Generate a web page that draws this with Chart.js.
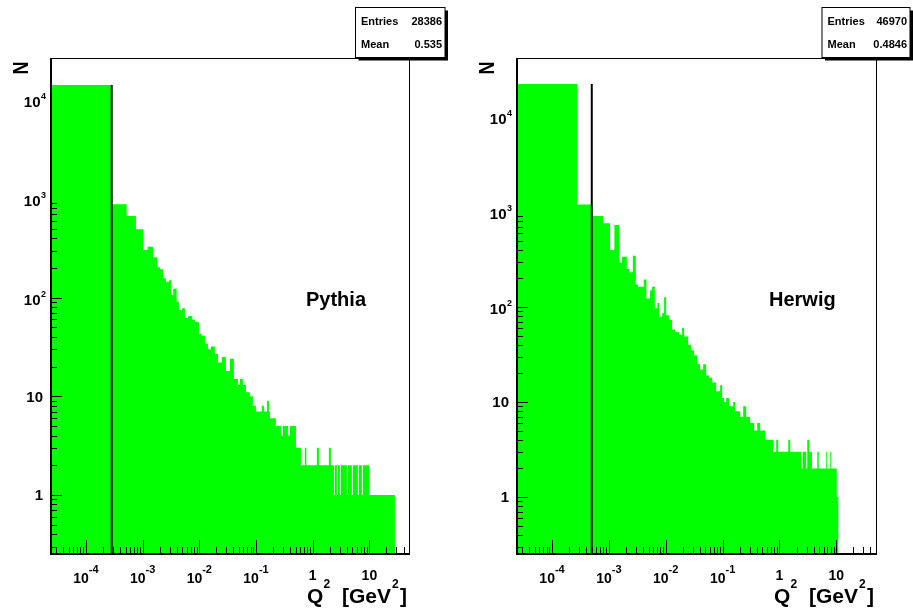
<!DOCTYPE html>
<html>
<head>
<meta charset="utf-8">
<title>Q2 distributions</title>
<script src="https://cdn.jsdelivr.net/npm/chart.js@4.4.0/dist/chart.umd.min.js"></script>
<style>
  body { margin: 0; background: #fff; }
  canvas { position: absolute; top: 0; }
</style>
</head>
<body>
<canvas id="pythiaChart" width="456" height="609" style="left:0"></canvas>
<canvas id="herwigChart" width="457" height="609" style="left:456px"></canvas>
<script>
// Q^2 histograms, bin low edges (GeV^2) and entries per bin
const pythiaEdges = [1e-5, 2.85e-4, 5.22e-4, 7.62e-4, 1.025e-3, 1.225e-3, 1.54e-3, 1.81e-3, 2.02e-3, 2.31e-3,
  2.58e-3, 2.91e-3, 3.19e-3, 3.47e-3, 3.98e-3, 4.37e-3, 4.93e-3, 5.57e-3, 6.37e-3, 7.50e-3,
  8.36e-3, 9.84e-3, 1.10e-2, 1.256e-2, 1.418e-2, 1.60e-2, 1.88e-2, 2.13e-2, 2.50e-2, 2.94e-2,
  3.47e-2, 4.08e-2, 4.80e-2, 5.20e-2, 5.87e-2, 6.64e-2, 7.80e-2, 8.81e-2, 9.95e-2, 0.108,
  0.127, 0.138, 0.156, 0.169, 0.176, 0.224, 0.275, 0.298, 0.366, 0.396,
  0.506, 0.620, 0.727, 0.774, 1.186, 1.286, 1.93, 2.09, 2.37, 2.46,
  2.67, 2.78, 3.02, 3.14, 4.01, 4.18, 4.91, 5.12, 6.27, 6.53,
  7.37, 7.68, 10.0, 28.2];
const pythiaCounts = [14250, 882, 671, 492, 303, 328, 256, 203, 194, 157,
  145, 150, 106, 123, 91, 75, 78, 62, 65, 60,
  57, 43, 41, 34, 30, 32, 27, 22, 25, 18,
  24, 15, 13, 15, 13, 11, 10, 8, 7, 7,
  8, 7, 9, 7, 6, 5, 4, 5, 4, 5,
  3, 2, 3, 2, 3, 2, 3, 2, 1, 2,
  1, 2, 1, 2, 1, 2, 1, 2, 1, 2,
  1, 2, 1];

const herwigEdges = [1e-5, 2.79e-4, 5.0e-4, 8.0e-4, 1.05e-3, 1.25e-3, 1.53e-3, 1.69e-3, 2.07e-3, 2.30e-3,
  2.64e-3, 2.98e-3, 3.27e-3, 4.11e-3, 4.57e-3, 5.31e-3, 5.76e-3, 6.43e-3, 7.14e-3, 7.65e-3,
  8.64e-3, 9.37e-3, 1.016e-2, 1.148e-2, 1.296e-2, 1.464e-2, 1.72e-2, 1.94e-2, 2.11e-2, 2.48e-2,
  2.80e-2, 3.16e-2, 3.57e-2, 4.03e-2, 4.56e-2, 5.14e-2, 5.81e-2, 6.56e-2, 7.72e-2, 9.07e-2,
  9.84e-2, 0.1067, 0.1157, 0.1307, 0.1537, 0.1667, 0.204, 0.2306, 0.260, 0.306,
  0.360, 0.407, 0.459, 0.562, 0.778, 0.879, 0.953, 1.43, 1.55, 2.42,
  2.57, 2.96, 3.09, 3.35, 3.73, 4.63, 4.92, 6.67, 6.94, 7.84,
  8.17, 10.2, 11.0];
const herwigCounts = [22200, 1200, 908, 760, 398, 730, 293, 338, 251, 232,
  347, 173, 163, 195, 123, 150, 163, 97, 110, 79,
  86, 127, 82, 73, 58, 55, 51, 60, 49, 40,
  35, 31, 25, 22, 25, 19, 18, 16, 13, 15,
  11, 10, 11, 9, 10, 8, 7, 9, 7, 6,
  5, 6, 5, 4, 3, 4, 3, 4, 3, 2,
  3, 2, 4, 3, 2, 3, 2, 3, 2, 3,
  2, 1];

// vertical marker lines: [Q2, top]
const pythiaMarker = [2.85e-4, 14250];
const herwigMarker = [5.0e-4, 22200];

const xRange = [2.42e-5, 50];
const pythiaYRange = [0.252, 26800];
const herwigYRange = [0.251, 41800];

const xTickPowers = [-4, -3, -2, -1, 0, 1];
const yTickPowers = [0, 1, 2, 3, 4];

const statLabels = ['Entries', 'Mean'];
const pythiaStats = ['28386', '0.535'];
const herwigStats = ['46970', '0.4846'];

const FONT = '"Liberation Sans", Arial, Helvetica, sans-serif';
const bold = size => 'bold ' + size + 'px ' + FONT;

function histPoints(edges, counts) {
  const pts = counts.map((c, i) => ({ x: edges[i], y: c }));
  pts.push({ x: edges[edges.length - 1], y: 0.1 });
  return pts;
}

// frame, inward ticks, labels, titles and stats box in the ROOT style
function makeFrame(cfg) {
  return {
    id: 'rootFrame',
    afterDraw(chart) {
      const ctx = chart.ctx;
      const a = chart.chartArea;
      const xs = chart.scales.x, ys = chart.scales.y;
      ctx.save();
      ctx.strokeStyle = '#000';
      ctx.fillStyle = '#000';

      ctx.lineWidth = 1;
      ctx.beginPath();
      ctx.moveTo(a.left, a.top + 0.5);
      ctx.lineTo(a.right + 0.5, a.top + 0.5);
      ctx.lineTo(a.right + 0.5, a.bottom);
      ctx.stroke();
      ctx.fillRect(a.left - 1, a.top, 2, a.bottom - a.top + 1);
      ctx.fillRect(a.left - 1, a.bottom - 1, a.right - a.left + 2, 2);

      ctx.beginPath();
      for (let p = -5; p <= 2; p++) {
        for (let k = 1; k <= 9; k++) {
          const v = k * Math.pow(10, p);
          if (v > xs.min && v < xs.max) {
            const px = Math.round(xs.getPixelForValue(v)) + 0.5;
            ctx.moveTo(px, a.bottom);
            ctx.lineTo(px, a.bottom - (k === 1 ? 14 : 7));
          }
          if (v > ys.min && v < ys.max) {
            const py = Math.round(ys.getPixelForValue(v)) + 0.5;
            ctx.moveTo(a.left, py);
            ctx.lineTo(a.left + (k === 1 ? 11 : 6), py);
          }
        }
      }
      ctx.stroke();

      ctx.textBaseline = 'alphabetic';
      xTickPowers.forEach(p => {
        const px = xs.getPixelForValue(Math.pow(10, p));
        if (p >= 0) {
          ctx.font = bold(14);
          ctx.textAlign = 'center';
          ctx.fillText(p === 0 ? '1' : '10', px, a.bottom + 26);
        } else {
          ctx.font = bold(14);
          const wb = ctx.measureText('10').width;
          ctx.font = bold(11);
          const ws = ctx.measureText(String(p)).width;
          const x0 = px - (wb + ws) / 2;
          ctx.textAlign = 'left';
          ctx.fillText(String(p), x0 + wb, a.bottom + 19);
          ctx.font = bold(14);
          ctx.fillText('10', x0, a.bottom + 29);
        }
      });

      ctx.textAlign = 'right';
      yTickPowers.forEach(p => {
        const py = ys.getPixelForValue(Math.pow(10, p));
        if (p <= 1) {
          ctx.font = bold(15);
          ctx.fillText(p === 0 ? '1' : '10', a.left - 8, py + 5.5);
        } else {
          ctx.font = bold(9);
          const ws = ctx.measureText(String(p)).width;
          ctx.fillText(String(p), a.left - 5, py - 1);
          ctx.font = bold(15);
          ctx.fillText('10', a.left - 5.5 - ws, py + 7);
        }
      });

      // axis titles
      ctx.save();
      ctx.translate(a.left - 31, a.top + 10);
      ctx.rotate(-Math.PI / 2);
      ctx.scale(1, 1.25);
      ctx.font = bold(18);
      ctx.textAlign = 'center';
      ctx.fillText('N', 0, 0.358 * 18);
      ctx.restore();

      ctx.textAlign = 'left';
      ctx.font = bold(21);
      ctx.fillText('Q', a.right - 102, a.bottom + 48.5);
      ctx.fillText('[GeV', a.right - 67, a.bottom + 48.5);
      ctx.fillText(']', a.right - 9, a.bottom + 48.5);
      ctx.font = bold(12);
      ctx.fillText('2', a.right - 85.5, a.bottom + 34);
      ctx.fillText('2', a.right - 17, a.bottom + 34);

      ctx.font = bold(20);
      ctx.fillText(cfg.label, a.left + cfg.labelAt[0], a.top + cfg.labelAt[1]);

      // stats box with drop shadow
      const bx = a.right + cfg.box[0], by = 7.5, bw = cfg.box[1], bh = 50;
      ctx.fillRect(bx + 3, by + 3, bw, bh);
      ctx.fillStyle = '#fff';
      ctx.fillRect(bx, by, bw, bh);
      ctx.strokeRect(bx, by, bw, bh);
      ctx.fillStyle = '#000';
      ctx.font = bold(11);
      statLabels.forEach((s, i) => {
        const ty = by + 17 + 23.5 * i;
        ctx.textAlign = 'left';
        ctx.fillText(s, bx + 5.5, ty);
        ctx.textAlign = 'right';
        ctx.fillText(cfg.stats[i], bx + bw - 3, ty);
      });
      ctx.restore();
    }
  };
}

function makeChart(id, edges, counts, marker, yRange, cfg, padding) {
  return new Chart(document.getElementById(id), {
    type: 'line',
    data: {
      datasets: [{
        data: [{ x: marker[0], y: 0.1 }, { x: marker[0], y: marker[1] }],
        borderColor: '#000',
        borderWidth: 2,
        pointRadius: 0,
        fill: false,
        order: 0
      }, {
        data: histPoints(edges, counts),
        stepped: true,
        fill: 'start',
        backgroundColor: '#00ff00',
        borderColor: 'rgba(0,0,0,0)',
        borderWidth: 0,
        pointRadius: 0,
        order: 1
      }]
    },
    options: {
      responsive: false,
      animation: false,
      layout: { padding: padding },
      scales: {
        x: { type: 'logarithmic', min: xRange[0], max: xRange[1], display: false },
        y: { type: 'logarithmic', min: yRange[0], max: yRange[1], display: false }
      },
      plugins: {
        legend: { display: false },
        tooltip: { enabled: false }
      }
    },
    plugins: [makeFrame(cfg)]
  });
}

makeChart('pythiaChart', pythiaEdges, pythiaCounts, pythiaMarker, pythiaYRange,
  { label: 'Pythia', labelAt: [255, 247.7], box: [-53.5, 89.5], stats: pythiaStats },
  { left: 51, top: 58, right: 47, bottom: 55 });

makeChart('herwigChart', herwigEdges, herwigCounts, herwigMarker, herwigYRange,
  { label: 'Herwig', labelAt: [252, 248], box: [-54, 88], stats: herwigStats },
  { left: 61, top: 58, right: 37, bottom: 55 });
</script>
</body>
</html>
